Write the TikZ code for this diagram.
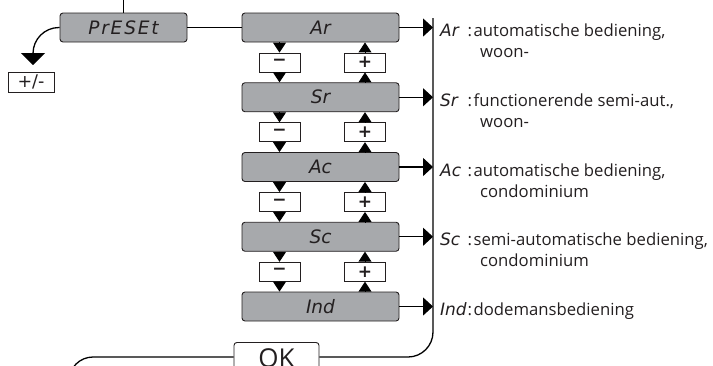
\documentclass[tikz,border=0pt]{standalone}
\usepackage{fontspec}
\setmainfont{Open Sans}
\newfontfamily\lcdfont{DejaVu Sans}
\newfontfamily\symfont{DejaVu Sans}
\usetikzlibrary{arrows.meta}
\definecolor{lcdgray}{HTML}{A7A9AC}
\definecolor{ink}{HTML}{231F20}
\begin{document}
\begin{tikzpicture}[x=1pt,y=-1pt,
  conn/.style={draw=black, line width=1.3pt},
  lcdbox/.style={draw=ink, line width=0.9pt, fill=lcdgray, rounded corners=3pt,
    minimum width=157pt, minimum height=29pt, inner sep=0pt,
    font=\lcdfont\itshape\fontsize{18.5}{20}\selectfont, text=ink},
  keybox/.style={draw=ink, line width=0.9pt, fill=white, minimum width=41pt,
    minimum height=19pt, inner sep=0pt,
    font=\symfont\bfseries\fontsize{17}{17}\selectfont, text=ink},
  pmbox/.style={draw=ink, line width=0.9pt, fill=white, minimum width=46pt,
    minimum height=20pt, inner sep=0pt,
    font=\symfont\fontsize{17.5}{17.5}\selectfont, text=ink},
  okbox/.style={draw=ink, line width=0.9pt, fill=white, rounded corners=3pt,
    minimum width=85pt, inner xsep=0pt, inner ysep=6pt, text height=19pt,
    text depth=10pt, font=\fontsize{26}{26}\selectfont, text=ink},
  tri/.style={draw=black, line width=1pt, -{Triangle[width=13pt,length=10pt]}},
  rarr/.style={conn, -{Triangle[width=18pt,length=10pt]}},
  glyph/.style={anchor=base west, inner sep=0pt,
    font=\lcdfont\itshape\fontsize{17}{20}\selectfont, text=ink},
  lbl/.style={anchor=base west, inner sep=0pt,
    font=\fontsize{16.7}{20}\selectfont, text=ink}
]
\useasboundingbox (0,0) rectangle (713,365);
\clip (0,0) rectangle (713,365);

% display boxes
\node[lcdbox, minimum width=127pt] (preset) at (123.5,27.5) {\addfontfeature{LetterSpace=10}PrESEt};
\node[lcdbox] (ar)  at (320.5,27.5)   {Ar};
\node[lcdbox] (sr)  at (320.5,97.25)  {Sr};
\node[lcdbox] (ac)  at (320.5,167)    {Ac};
\node[lcdbox] (sc)  at (320.5,236.75) {Sc};
\node[lcdbox] (ind) at (320.5,306.5)  {Ind};

% keys
\node[keybox] (m1) at (279.5,62.5)   {−};
\node[keybox] (m2) at (279.5,132.25) {−};
\node[keybox] (m3) at (279.5,202)    {−};
\node[keybox] (m4) at (279.5,271.75) {−};
\node[keybox] (p1) at (365,62.5)   {+};
\node[keybox] (p2) at (365,132.25) {+};
\node[keybox] (p3) at (365,202)    {+};
\node[keybox] (p4) at (365,271.75) {+};

% minus arrows (down)
\draw[tri] (ar.south -| m1.north) -- (m1.north);
\draw[tri] (m1.south) -- (m1.south |- sr.north);
\draw[tri] (sr.south -| m2.north) -- (m2.north);
\draw[tri] (m2.south) -- (m2.south |- ac.north);
\draw[tri] (ac.south -| m3.north) -- (m3.north);
\draw[tri] (m3.south) -- (m3.south |- sc.north);
\draw[tri] (sc.south -| m4.north) -- (m4.north);
\draw[tri] (m4.south) -- (m4.south |- ind.north);
% plus arrows (up)
\draw[tri] (sr.north -| p1.south) -- (p1.south);
\draw[tri] (p1.north) -- (p1.north |- ar.south);
\draw[tri] (ac.north -| p2.south) -- (p2.south);
\draw[tri] (p2.north) -- (p2.north |- sr.south);
\draw[tri] (sc.north -| p3.south) -- (p3.south);
\draw[tri] (p3.north) -- (p3.north |- ac.south);
\draw[tri] (ind.north -| p4.south) -- (p4.south);
\draw[tri] (p4.north) -- (p4.north |- sc.south);

% top and preset connections
\coordinate (top) at (123.5,0);
\draw[conn] (preset.north) -- (preset.north |- top);
\draw[conn] (preset.east) -- (ar.west);
\coordinate (pmtip) at (33,65);
\draw[conn, -{Triangle[width=24pt,length=12pt]}, rounded corners=26pt]
  (preset.west) -- (pmtip |- preset.west) -- (pmtip);
\node[pmbox] (pm) at (31,82) {+/-};

% right arrows to bus
\coordinate (bus) at (433,18);
\draw[rarr] (ar.east)  -- (ar.east -| bus);
\draw[rarr] (sr.east)  -- (sr.east -| bus);
\draw[rarr] (ac.east)  -- (ac.east -| bus);
\draw[rarr] (sc.east)  -- (sc.east -| bus);
\draw[rarr] (ind.east) -- (ind.east -| bus);

% OK and return line
\node[okbox, anchor=north] (ok) at (276.5,342) {OK};
\coordinate (bl) at (0,357);
\coordinate (lc) at (69,400);
\draw[conn, rounded corners=25pt] (bus) -- (bus |- bl) -- (ok.east |- bl);
\draw[conn, rounded corners=24pt] (ok.west |- bl) -- (lc |- bl) -- (lc);

% labels
\node[glyph] (gar) at (440,36.5) {Ar};
\node[lbl] (tar) at (467.5,36.5) {:\hspace{1.5pt}automatische bediening,};
\node[lbl] (tar2) at (480,57.5) {woon-};
\node[glyph] (gsr) at (440,106.25) {Sr};
\node[lbl] (tsr) at (467.5,106.25) {:\hspace{1.5pt}functionerende semi-aut.,};
\node[lbl] (tsr2) at (480,127.25) {woon-};
\node[glyph] (gac) at (440,176) {Ac};
\node[lbl] (tac) at (467.5,176) {:\hspace{1.5pt}automatische bediening,};
\node[lbl] (tac2) at (480,197) {condominium};
\node[glyph] (gsc) at (440,245.75) {Sc};
\node[lbl] (tsc) at (467.5,245.75) {:\hspace{1.5pt}semi-automatische bediening,};
\node[lbl] (tsc2) at (480,266.75) {condominium};
\node[glyph] (gind) at (440,315.5) {Ind};
\node[lbl] (tind) at (467.5,315.5) {:\hspace{1.5pt}dodemansbediening};
\end{tikzpicture}
\end{document}
